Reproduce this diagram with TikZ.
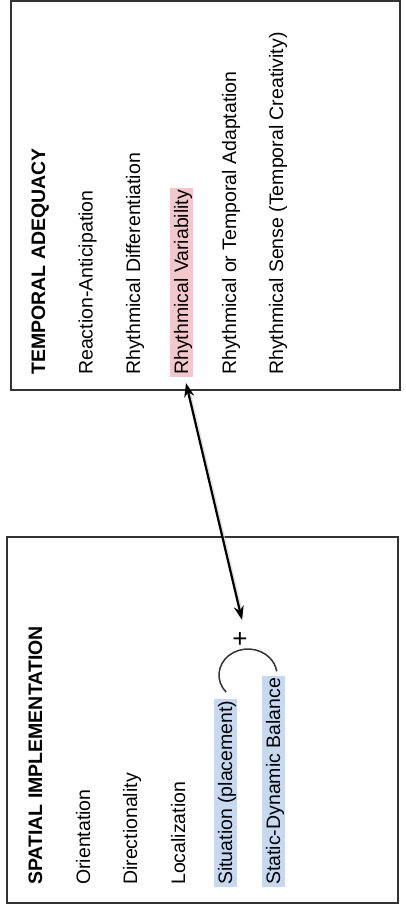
\documentclass[tikz,border=0pt]{standalone}
\usepackage{fontspec}
\setmainfont{Liberation Sans}
\usetikzlibrary{arrows.meta}
\definecolor{boxline}{HTML}{333333}
\definecolor{hlpink}{HTML}{F4C7CC}
\definecolor{hlblue}{HTML}{C6D9F1}
\begin{document}
\begin{tikzpicture}[x=1pt,y=1pt,
  item/.style={font=\fontsize{19.5}{23}\selectfont, rotate=90, anchor=base west,
    inner xsep=2pt, inner ysep=2pt, text height=16pt, text depth=3pt},
  head/.style={item, font=\fontsize{19.5}{23}\selectfont\bfseries},
  frame/.style={draw=boxline, line width=1.6pt, inner sep=0pt},
  link/.style={<->, >={Stealth[length=14pt,width=10pt]}, line width=2.2pt, black},
  bracket/.style={draw=black!80, line width=1.5pt},
]
\useasboundingbox (0,0) rectangle (406,911);
% boxes
\node[frame, minimum width=389pt, minimum height=389pt] (tbox) at (205.5,715.5) {};
\node[frame, minimum width=391pt, minimum height=366pt] (sbox) at (202.5,191) {};
% temporal texts
\node[head] (t0) at (45,534) {TEMPORAL ADEQUACY};
\node[item] (t1) at (92.5,534) {Reaction-Anticipation};
\node[item] (t2) at (140,534) {Rhythmical Differentiation};
\node[item, fill=hlpink] (t3) at (188,534) {Rhythmical Variability};
\node[item] (t4) at (236,534) {Rhythmical or Temporal Adaptation};
\node[item] (t5) at (283,534) {Rhythmical Sense (Temporal Creativity)};
% spatial texts
\node[head] (s0) at (42,24) {SPATIAL IMPLEMENTATION};
\node[item] (s1) at (90,24) {Orientation};
\node[item] (s2) at (137,24) {Directionality};
\node[item] (s3) at (185,24) {Localization};
\node[item, fill=hlblue] (s4) at (232,24) {Situation (placement)};
\node[item, fill=hlblue] (s5) at (280,24) {Static-Dynamic Balance};
% bracket and plus
\draw[bracket] (226.1,218.9) arc[start angle=221, end angle=8, x radius=29, y radius=26];
\node[font=\fontsize{26}{26}\selectfont, inner sep=0pt] (plus) at (240,271) {+};
% connector
\coordinate (a1) at (186,528);
\coordinate (a2) at (242,291);
\draw[line width=3pt, black!20, opacity=0.6, shorten >=4pt, shorten <=4pt] ([shift={(1.5,-1.5)}]a1) -- ([shift={(1.5,-1.5)}]a2);
\draw[link] (a1) -- (a2);
\end{tikzpicture}
\end{document}
